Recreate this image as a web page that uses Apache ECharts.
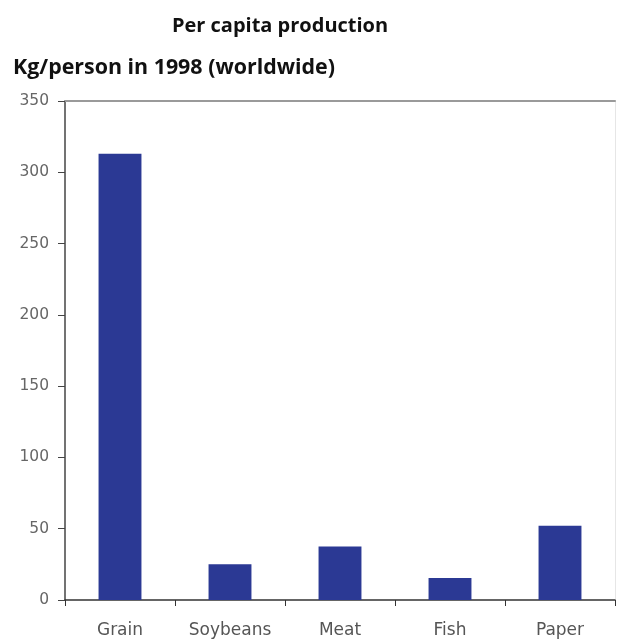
<!DOCTYPE html>
<html><head><meta charset="utf-8">
<script src="https://cdn.jsdelivr.net/npm/echarts@6/dist/echarts.min.js"></script>
<style>html,body{margin:0;padding:0;background:#fff}#c{width:620px;height:644px}</style>
</head><body><div id="c"></div>
<script>
const categories = ['Grain', 'Soybeans', 'Meat', 'Fish', 'Paper'];
const values = [313, 25, 37.5, 15.5, 52];
const yTicks = [0, 50, 100, 150, 200, 250, 300, 350];

const chart = echarts.init(document.getElementById('c'));
chart.setOption({
  animation: false,
  title: [
    { text: 'Per capita production', left: 275, textAlign: 'center', top: 11,
      textStyle: { fontFamily: 'Open Sans', fontWeight: 'bold', fontSize: 20, color: '#111' } },
    { text: 'Kg/person in 1998 (worldwide)', left: 8, top: 52,
      textStyle: { fontFamily: 'Open Sans', fontWeight: 'bold', fontSize: 21.4, color: '#111' } }
  ],
  grid: { left: 65, right: 5, top: 101, bottom: 44, containLabel: false },
  xAxis: [
    { type: 'category', data: categories, position: 'bottom',
      axisLine: { lineStyle: { color: '#333', width: 1.5 } },
      axisTick: { show: true, length: 6, alignWithLabel: false, lineStyle: { color: '#333' } },
      axisLabel: { color: '#555', fontFamily: 'DejaVu Sans', fontSize: 17, margin: 22 } },
    { type: 'category', data: categories, position: 'top',
      axisLine: { onZero: false, lineStyle: { color: '#9a9a9a', width: 2 } },
      axisTick: { show: false }, axisLabel: { show: false } }
  ],
  yAxis: [
    { type: 'value', min: 0, max: 350, interval: 50,
      axisLine: { show: true, lineStyle: { color: '#444', width: 1.5 } },
      axisTick: { show: true, length: 7, lineStyle: { color: '#444' } },
      splitLine: { show: false },
      axisLabel: { color: '#666', fontFamily: 'DejaVu Sans', fontSize: 15.5, margin: 16,
        formatter: v => yTicks.includes(v) ? String(v) : '' } },
    { type: 'value', min: 0, max: 350, interval: 50, position: 'right',
      axisLine: { show: true, onZero: false, lineStyle: { color: '#e6e6e6', width: 1 } },
      axisTick: { show: false }, axisLabel: { show: false }, splitLine: { show: false } }
  ],
  series: [{
    type: 'bar', data: values, barWidth: '39%',
    itemStyle: { color: '#2B3994' }
  }]
});
</script></body></html>
